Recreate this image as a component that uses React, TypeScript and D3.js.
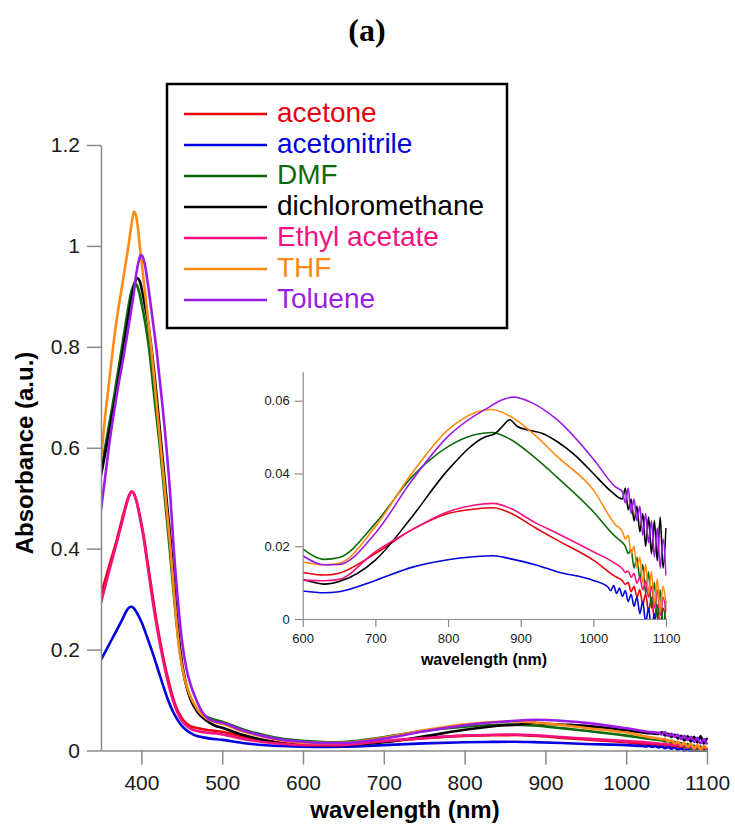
import { useEffect, useRef } from 'react';
import * as d3 from 'd3';

type Pt = [number, number];

// absorbance spectra, [wavelength nm, absorbance]
const acetone: Pt[] = [
  [350, .309], [360, .365], [370, .42], [376, .458], [380, .482], [384, .503], [388, .513], [391, .508],
  [394, .494], [398, .466], [402, .433], [408, .37], [414, .305], [420, .245], [427, .185], [434, .135],
  [441, .095], [447, .072], [453, .058], [460, .049], [470, .044], [485, .040], [500, .037], [525, .028],
  [550, .021], [575, .015], [600, .0128], [630, .0121], [650, .0126], [700, .018], [750, .0245],
  [800, .029], [835, .0302], [862, .0306], [885, .0292], [920, .0251], [950, .0217], [1000, .0162],
  [1030, .0117], [1040, .0105], [1044, .0095], [1048, .010], [1052, .0075], [1056, .009], [1060, .006],
  [1064, .008], [1068, .004], [1072, .007], [1076, .002], [1080, .006], [1084, 0], [1088, .004],
  [1092, -.002], [1096, .003], [1100, -.001],
];
const acetonitrile: Pt[] = [
  [350, .18], [360, .21], [370, .24], [377, .262], [381, .275], [384, .282], [387, .285], [390, .283],
  [394, .274], [400, .255], [407, .225], [414, .193], [420, .163], [427, .128], [433, .10], [440, .074],
  [448, .053], [455, .041], [465, .031], [480, .025], [500, .021], [525, .015], [550, .011], [575, .009],
  [600, .0077], [630, .0072], [650, .0075], [700, .0106], [750, .0142], [800, .0163], [835, .0171],
  [862, .0174], [885, .0166], [920, .0149], [950, .013], [1000, .0106], [1020, .0088], [1024, .0078],
  [1028, .0092], [1032, .0070], [1036, .0085], [1040, .0062], [1044, .0078], [1048, .0048], [1052, .0068],
  [1056, .0035], [1060, .006], [1064, .0015], [1068, .0048], [1072, -.001], [1076, .003], [1080, -.003],
  [1084, .0015], [1088, -.004], [1092, 0], [1096, -.004], [1100, -.001],
];
const dmf: Pt[] = [
  [350, .555], [355, .60], [360, .645], [365, .69], [370, .74], [376, .80], [380, .84], [384, .88],
  [387, .905], [390, .921], [392, .926], [394, .923], [397, .91], [400, .888], [405, .845], [410, .79],
  [416, .70], [423, .60], [429, .50], [435, .40], [440, .31], [446, .215], [452, .152], [458, .115],
  [465, .09], [475, .072], [485, .064], [500, .057], [525, .042], [550, .031], [575, .023], [600, .0193],
  [630, .0164], [650, .0169], [700, .0263], [750, .039], [800, .0474], [835, .0506], [860, .0513],
  [885, .0495], [920, .0443], [950, .039], [1000, .0295], [1030, .0227], [1040, .021], [1044, .020],
  [1048, .018], [1052, .019], [1056, .014], [1060, .017], [1064, .011], [1068, .015], [1072, .007],
  [1076, .013], [1080, .003], [1084, .010], [1088, 0], [1092, .008], [1096, -.002], [1100, .005],
];
const dichloromethane: Pt[] = [
  [350, .545], [360, .63], [370, .72], [376, .78], [380, .82], [385, .87], [389, .907], [392, .928],
  [395, .936], [398, .93], [401, .91], [404, .885], [408, .85], [413, .79], [419, .70], [425, .60],
  [431, .50], [437, .40], [442, .30], [448, .20], [454, .14], [460, .105], [470, .075], [480, .06],
  [490, .05], [500, .045], [525, .031], [550, .021], [575, .014], [600, .0109], [630, .0096], [650, .0103],
  [700, .0162], [750, .028], [800, .041], [850, .050], [865, .051], [875, .053], [885, .0548], [895, .053],
  [910, .052], [930, .051], [950, .0488], [975, .045], [1000, .040], [1025, .035], [1040, .033],
  [1044, .036], [1048, .030], [1052, .033], [1056, .027], [1060, .031], [1064, .024], [1068, .029],
  [1072, .020], [1076, .028], [1080, .018], [1084, .027], [1088, .016], [1092, .028], [1096, .014],
  [1100, .025],
];
const ethylAcetate: Pt[] = [
  [350, .293], [360, .355], [370, .415], [376, .452], [380, .478], [384, .501], [388, .513], [391, .508],
  [394, .493], [398, .463], [402, .428], [408, .362], [414, .295], [420, .237], [427, .178], [434, .128],
  [441, .09], [447, .067], [453, .053], [460, .044], [470, .038], [485, .035], [500, .032], [525, .023],
  [550, .017], [575, .013], [600, .0107], [630, .0105], [650, .0109], [700, .0185], [750, .0245],
  [800, .0295], [835, .0313], [862, .0318], [885, .0305], [920, .0265], [950, .0236], [1000, .0185],
  [1030, .0153], [1040, .0138], [1044, .0128], [1048, .0132], [1052, .0115], [1056, .0125], [1060, .0098],
  [1064, .0115], [1068, .008], [1072, .0105], [1076, .006], [1080, .009], [1084, .003], [1088, .008],
  [1092, .001], [1096, .006], [1100, .002],
];
const thf: Pt[] = [
  [350, .578], [355, .66], [360, .73], [365, .80], [370, .86], [375, .91], [380, .96], [384, 1.0],
  [387, 1.035], [389, 1.055], [391, 1.068], [393, 1.062], [395, 1.045], [398, 1.0], [405, .9], [412, .8],
  [418, .7], [424, .6], [430, .5], [436, .4], [441, .3], [447, .2], [453, .145], [460, .11], [470, .08],
  [480, .064], [490, .057], [500, .053], [525, .038], [550, .028], [575, .02], [600, .0156], [630, .0149],
  [650, .0153], [700, .0254], [750, .040], [800, .052], [835, .0566], [860, .0576], [885, .0558],
  [920, .0505], [950, .0447], [1000, .0355], [1030, .026], [1040, .024], [1044, .022], [1048, .023],
  [1052, .018], [1056, .020], [1060, .014], [1064, .017], [1068, .010], [1072, .015], [1076, .007],
  [1080, .013], [1084, .004], [1088, .011], [1092, .002], [1096, .009], [1100, .004],
];
const toluene: Pt[] = [
  [350, .477], [355, .54], [360, .605], [365, .66], [370, .71], [375, .755], [380, .80], [385, .85],
  [390, .90], [394, .948], [397, .972], [399, .982], [401, .98], [404, .965], [408, .925], [413, .865],
  [419, .79], [425, .70], [431, .60], [436, .50], [440, .40], [445, .30], [450, .22], [456, .16],
  [462, .125], [468, .10], [475, .077], [482, .064], [490, .058], [500, .055], [525, .040], [550, .029],
  [575, .021], [600, .0174], [630, .0149], [650, .015], [700, .0236], [750, .038], [800, .0502],
  [850, .0575], [890, .061], [915, .0595], [950, .0548], [1000, .0440], [1030, .0364], [1040, .035],
  [1044, .032], [1048, .036], [1052, .029], [1056, .033], [1060, .027], [1064, .031], [1068, .023],
  [1072, .029], [1076, .021], [1080, .027], [1084, .017], [1088, .025], [1092, .014], [1096, .022],
  [1100, .012],
];

const solventNames = ['acetone', 'acetonitrile', 'DMF', 'dichloromethane', 'Ethyl acetate', 'THF', 'Toluene'];
const solventColors = ['#e8000c', '#0000e0', '#0b6b0b', '#000000', '#f5127f', '#ff8a17', '#9a1ce6'];
const spectra = [acetone, acetonitrile, dmf, dichloromethane, ethylAcetate, thf, toluene];

const mainXTicks = [400, 500, 600, 700, 800, 900, 1000, 1100];
const mainYTicks = [0, 0.2, 0.4, 0.6, 0.8, 1, 1.2];
const mainYLabels = ['0', '0.2', '0.4', '0.6', '0.8', '1', '1.2'];
const insetXTicks = [600, 700, 800, 900, 1000, 1100];
const insetYTicks = [0, 0.02, 0.04, 0.06];
const insetYLabels = ['0', '0.02', '0.04', '0.06'];

const font = 'Liberation Sans, Arial, Helvetica, sans-serif';

export default function App() {
  const svgRef = useRef<SVGSVGElement>(null);

  useEffect(() => {
    const svg = d3.select(svgRef.current);
    svg.selectAll('*').remove();

    // main panel
    const x = d3.scaleLinear().domain([350, 1100]).range([101, 707]);
    const y = d3.scaleLinear().domain([0, 1.2]).range([750.5, 145]);

    const defs = svg.append('defs');
    defs.append('clipPath').attr('id', 'mainClip')
      .append('rect').attr('x', 101).attr('y', 140).attr('width', 608).attr('height', 612);
    defs.append('clipPath').attr('id', 'insetClip')
      .append('rect').attr('x', 302.7).attr('y', 371.7).attr('width', 364).attr('height', 247.3);

    const styleAxis = (g: any, size: number) => {
      g.select('.domain').attr('stroke', '#8a8a8a').attr('stroke-width', 1.5);
      g.selectAll('.tick line').attr('stroke', '#8a8a8a').attr('stroke-width', 1.5);
      g.selectAll('.tick text').attr('fill', '#1a1a1a').style('font-family', font).style('font-size', `${size}px`);
    };

    const line = d3.line<Pt>()
      .x(d => x(d[0]))
      .y(d => y(d[1]))
      .curve(d3.curveMonotoneX);

    svg.append('g').attr('clip-path', 'url(#mainClip)')
      .selectAll('path')
      .data(spectra)
      .join('path')
      .attr('d', d => line(d))
      .attr('fill', 'none')
      .attr('stroke', (d, i) => solventColors[i])
      .attr('stroke-width', 2.6)
      .attr('stroke-linejoin', 'round');

    const gx = svg.append('g')
      .attr('transform', `translate(0,${y(0)})`)
      .call(d3.axisBottom(x).tickValues(mainXTicks).tickSize(14).tickSizeOuter(0).tickPadding(11).tickFormat(d3.format('d')));
    styleAxis(gx, 21);

    const gy = svg.append('g')
      .attr('transform', `translate(${x(350)},0)`)
      .call(d3.axisLeft(y).tickValues(mainYTicks).tickSize(14).tickSizeOuter(0).tickPadding(7)
        .tickFormat((d, i) => mainYLabels[i]));
    styleAxis(gy, 21);

    svg.append('text')
      .attr('x', 405).attr('y', 818)
      .attr('text-anchor', 'middle')
      .style('font-family', font).style('font-size', '24px').style('font-weight', 'bold')
      .text('wavelength (nm)');

    svg.append('text')
      .attr('transform', 'translate(33,453) rotate(-90)')
      .attr('text-anchor', 'middle')
      .style('font-family', font).style('font-size', '24px').style('font-weight', 'bold')
      .text('Absorbance (a.u.)');

    svg.append('text')
      .attr('x', 367).attr('y', 41)
      .attr('text-anchor', 'middle')
      .style('font-family', 'Liberation Serif, Times New Roman, serif').style('font-size', '32px').style('font-weight', 'bold')
      .text('(a)');

    // legend
    const legend = svg.append('g');
    legend.append('rect')
      .attr('x', 167).attr('y', 84).attr('width', 340).attr('height', 244)
      .attr('fill', '#fff').attr('stroke', '#000').attr('stroke-width', 2.5);
    const rows = legend.selectAll('g.row')
      .data(solventNames)
      .join('g')
      .attr('class', 'row')
      .attr('transform', (d, i) => `translate(0,${114 + i * 31})`);
    rows.append('line')
      .attr('x1', 184).attr('x2', 267)
      .attr('stroke', (d, i) => solventColors[i])
      .attr('stroke-width', 2.5);
    rows.append('text')
      .attr('x', 277).attr('y', 8)
      .attr('fill', (d, i) => solventColors[i])
      .style('font-family', font).style('font-size', '28px')
      .text(d => d);

    // inset
    const xi = d3.scaleLinear().domain([600, 1100]).range([302.7, 666]);
    const yi = d3.scaleLinear().domain([0, 0.068]).range([619, 371.7]);

    const insetLine = d3.line<Pt>()
      .x(d => xi(d[0]))
      .y(d => yi(d[1]))
      .curve(d3.curveMonotoneX);

    svg.append('g').attr('clip-path', 'url(#insetClip)')
      .selectAll('path')
      .data(spectra.map(s => s.filter(d => d[0] >= 600)))
      .join('path')
      .attr('d', d => insetLine(d))
      .attr('fill', 'none')
      .attr('stroke', (d, i) => solventColors[i])
      .attr('stroke-width', 1.6)
      .attr('stroke-linejoin', 'round');

    const gxi = svg.append('g')
      .attr('transform', `translate(0,${yi(0)})`)
      .call(d3.axisBottom(xi).tickValues(insetXTicks).tickSize(8).tickSizeOuter(0).tickPadding(7).tickFormat(d3.format('d')));
    styleAxis(gxi, 13);
    gxi.selectAll('.domain, .tick line').attr('stroke-width', 1.2);

    const gyi = svg.append('g')
      .attr('transform', `translate(${xi(600)},0)`)
      .call(d3.axisLeft(yi).tickValues(insetYTicks).tickSize(8).tickSizeOuter(0).tickPadding(5)
        .tickFormat((d, i) => insetYLabels[i]));
    styleAxis(gyi, 13);
    gyi.selectAll('.domain, .tick line').attr('stroke-width', 1.2);

    svg.append('text')
      .attr('x', 484).attr('y', 665)
      .attr('text-anchor', 'middle')
      .style('font-family', font).style('font-size', '16px').style('font-weight', 'bold')
      .text('wavelength (nm)');
  }, []);

  return (
    <svg
      ref={svgRef}
      width={735}
      height={825}
      style={{ position: 'absolute', left: 0, top: 0, background: '#fff' }}
    />
  );
}
